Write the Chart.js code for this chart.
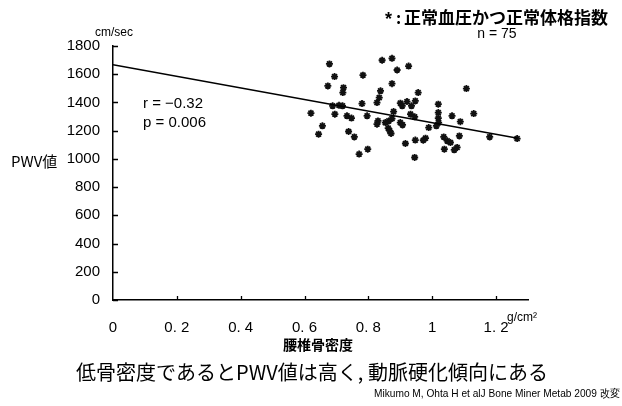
<!DOCTYPE html>
<html><head><meta charset="utf-8">
<script src="https://cdn.jsdelivr.net/npm/chart.js@4.4.0/dist/chart.umd.min.js"></script>
<style>html,body{margin:0;padding:0;background:#fff;} #wrap{width:622px;height:406px;}</style>
</head><body><div id="wrap"><canvas id="c" width="622" height="406"></canvas></div>
<script>
// 腰椎骨密度 (g/cm2)
const bmd = [0.678,0.694,0.783,0.673,0.722,0.720,0.620,0.688,0.708,0.719,0.780,0.695,0.733,0.747,0.796,0.656,0.644,0.738,0.756,0.771,0.798,
  0.843,0.874,0.890,0.926,0.874,0.838,0.834,0.827,0.956,0.900,0.906,0.921,0.935,0.947,1.019,0.879,0.932,0.945,1.019,1.019,1.020,1.013,0.989,
  0.874,0.864,0.853,0.830,0.827,0.900,0.907,0.862,0.867,0.871,0.916,0.947,0.979,0.972,0.945,1.036,1.047,1.057,1.038,1.062,1.107,1.130,1.088,1.085,1.078,1.069,1.180,1.266];
// PWV値 (cm/sec)
const pwv = [1673,1583,1593,1517,1505,1470,1324,1376,1380,1376,1392,1317,1305,1289,1305,1234,1175,1194,1156,1034,1069,
  1699,1713,1630,1658,1533,1482,1434,1399,1470,1395,1376,1406,1376,1411,1388,1335,1317,1298,1328,1289,1257,1234,1222,
  1286,1269,1257,1269,1246,1257,1241,1218,1199,1180,1109,1133,1147,1132,1010,1156,1128,1116,1069,1305,1498,1321,1264,1163,1081,1064,1156,1144];
// regression line
const fitX = [0, 1.268];
const fitY = [1668, 1147];
const xTicks = [0, 0.2, 0.4, 0.6, 0.8, 1, 1.2];
const xTickLabels = ['0', '0. 2', '0. 4', '0. 6', '0. 8', '1', '1. 2'];
const yTicks = [0, 200, 400, 600, 800, 1000, 1200, 1400, 1600, 1800];

const JP = '"Noto Sans CJK JP", sans-serif';
const LAT = '"Liberation Sans", Arial, sans-serif';

const points = bmd.map((v, i) => ({x: v, y: pwv[i]}));
const fit = fitX.map((v, i) => ({x: v, y: fitY[i]}));

const extras = {
  id: 'extras',
  afterDraw(chart) {
    const ctx = chart.ctx;
    const xs = chart.scales.x, ys = chart.scales.y;
    const ax = xs.getPixelForValue(0), ay = ys.getPixelForValue(0);
    ctx.save();
    ctx.strokeStyle = '#000'; ctx.lineWidth = 1.3;
    ctx.beginPath();
    yTicks.forEach(v => { const p = Math.round(ys.getPixelForValue(v)) + 0.5; ctx.moveTo(ax, p); ctx.lineTo(ax + 5, p); });
    xTicks.forEach(v => { if (v === 0) return; const p = Math.round(xs.getPixelForValue(v)) + 0.5; ctx.moveTo(p, ay); ctx.lineTo(p, ay - 4); });
    ctx.stroke();
    ctx.fillStyle = '#000';
    ctx.textBaseline = 'middle';
    ctx.textAlign = 'left';
    ctx.font = '12px ' + LAT;
    ctx.fillText('cm/sec', 95, 33);
    ctx.font = '15px ' + JP;
    ctx.fillText('PWV値', 11, 161);
    ctx.font = '15px ' + LAT;
    ctx.fillText('r = \u22120.32', 143, 104);
    ctx.fillText('p = 0.006', 143, 123);
    ctx.font = '12px ' + LAT;
    ctx.fillText('g/cm\u00B2', 507, 318);
    // top-right note
    ctx.font = 'bold 18px ' + LAT;
    ctx.fillText('*', 385, 20);
    ctx.font = 'bold 16px ' + JP;
    ctx.fillText(':', 396, 18);
    ctx.font = 'bold 17px ' + JP;
    ctx.fillText('正常血圧かつ正常体格指数', 404, 18, 214);
    ctx.textAlign = 'center';
    ctx.font = '14px ' + LAT;
    ctx.fillText('n = 75', 497, 34);
    ctx.font = 'bold 14px ' + JP;
    ctx.fillText('腰椎骨密度', 318, 345);
    ctx.font = '20px ' + JP;
    ctx.fillText('低骨密度であるとPWV値は高く, 動脈硬化傾向にある', 312, 372, 476);
    ctx.textAlign = 'right';
    ctx.font = '11px ' + LAT;
    ctx.fillText('Mikumo M, Ohta H et alJ Bone Miner Metab 2009 改変', 620, 394, 246);
    ctx.restore();
  }
};

new Chart(document.getElementById('c'), {
  type: 'scatter',
  data: {
    datasets: [
      {type: 'line', data: fit, borderColor: '#000', borderWidth: 1.5, pointRadius: 0, fill: false, tension: 0},
      {data: points, pointStyle: 'star', pointRadius: 3.5, borderWidth: 1.8, borderColor: '#111', backgroundColor: '#111'}
    ]
  },
  options: {
    responsive: false,
    animation: false,
    layout: {padding: {left: 0, right: 94, top: 46, bottom: 0}},
    plugins: {legend: {display: false}, tooltip: {enabled: false}},
    scales: {
      x: {
        type: 'linear', min: 0, max: 1.3,
        afterBuildTicks: s => { s.ticks = xTicks.map(v => ({value: v})); },
        afterFit: s => { s.height = 106; },
        grid: {display: false, drawTicks: false},
        border: {display: true, color: '#000', width: 1.5},
        ticks: {color: '#000', font: {family: LAT, size: 15}, padding: 19, maxRotation: 0,
          callback: (v) => { const i = xTicks.indexOf(v); return i >= 0 ? xTickLabels[i] : ''; }}
      },
      y: {
        type: 'linear', min: 0, max: 1800,
        afterBuildTicks: s => { s.ticks = yTicks.map(v => ({value: v})); },
        afterFit: s => { s.width = 113; },
        grid: {display: false, drawTicks: false},
        border: {display: true, color: '#000', width: 1.5},
        ticks: {color: '#000', font: {family: LAT, size: 15}, padding: 13, callback: v => String(v)}
      }
    }
  },
  plugins: [extras]
});
</script></body></html>
